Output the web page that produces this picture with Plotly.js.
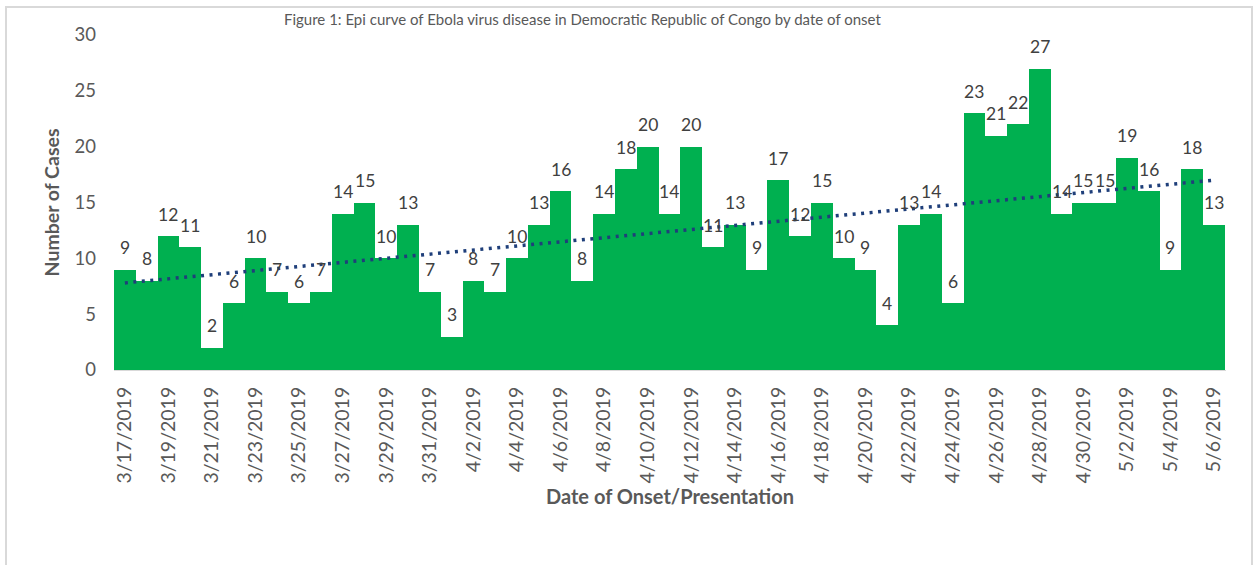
<!DOCTYPE html>
<html>
<head>
<meta charset="utf-8">
<script src="https://cdn.plot.ly/plotly-3.0.1.min.js"></script>
<style>
  html, body { margin: 0; padding: 0; background: #ffffff; }
  #chart { width: 1253px; height: 565px; }
</style>
</head>
<body>
<div id="chart"></div>
<script>
// ---- data ----
const dates = [
  "3/17/2019","3/18/2019","3/19/2019","3/20/2019","3/21/2019","3/22/2019","3/23/2019","3/24/2019",
  "3/25/2019","3/26/2019","3/27/2019","3/28/2019","3/29/2019","3/30/2019","3/31/2019",
  "4/1/2019","4/2/2019","4/3/2019","4/4/2019","4/5/2019","4/6/2019","4/7/2019","4/8/2019",
  "4/9/2019","4/10/2019","4/11/2019","4/12/2019","4/13/2019","4/14/2019","4/15/2019","4/16/2019",
  "4/17/2019","4/18/2019","4/19/2019","4/20/2019","4/21/2019","4/22/2019","4/23/2019","4/24/2019",
  "4/25/2019","4/26/2019","4/27/2019","4/28/2019","4/29/2019","4/30/2019",
  "5/1/2019","5/2/2019","5/3/2019","5/4/2019","5/5/2019","5/6/2019"
];
const cases = [
  9, 8, 12, 11, 2, 6, 10, 7, 6, 7, 14, 15, 10, 13, 7,
  3, 8, 7, 10, 13, 16, 8, 14, 18, 20, 14, 20, 11, 13, 9, 17,
  12, 15, 10, 9, 4, 13, 14, 6, 23, 21, 22, 27, 14, 15,
  15, 19, 16, 9, 18, 13
];
const tickLabels = [
  "3/17/2019","3/19/2019","3/21/2019","3/23/2019","3/25/2019","3/27/2019","3/29/2019","3/31/2019",
  "4/2/2019","4/4/2019","4/6/2019","4/8/2019","4/10/2019","4/12/2019","4/14/2019","4/16/2019",
  "4/18/2019","4/20/2019","4/22/2019","4/24/2019","4/26/2019","4/28/2019","4/30/2019",
  "5/2/2019","5/4/2019","5/6/2019"
];
const trendX = ["3/17/2019", "5/6/2019"];
const trendY = [7.8, 17.0];
const yTicks = [0, 5, 10, 15, 20, 25, 30];

const titleText = "Figure 1: Epi curve of Ebola virus disease in Democratic Republic of Congo by date of onset";
const xTitle = "Date of Onset/Presentation";
const yTitle = "Number of Cases";

// ---- style ----
const FONT = "Lato, 'Open Sans', sans-serif";
const W = 1253, H = 565;
const M = { l: 114, r: 27, t: 35, b: 195 };
const pw = W - M.l - M.r, ph = H - M.t - M.b;
const px2x = p => (p - M.l) / pw;
const py2y = p => (H - M.b - p) / ph;

const bars = {
  type: "bar",
  x: dates,
  y: cases,
  marker: { color: "#00B050", line: { width: 0 } },
  hoverinfo: "x+y",
  showlegend: false
};
const trend = {
  type: "scatter",
  mode: "lines",
  x: trendX,
  y: trendY,
  line: { color: "#1F3F7A", width: 3.5, dash: "3px,5.5px" },
  hoverinfo: "skip",
  showlegend: false
};

const valueLabels = dates.map((d, i) => ({
  x: d, y: cases[i], xref: "x", yref: "y",
  text: String(cases[i]),
  showarrow: false,
  yanchor: "middle",
  yshift: 22,
  font: { family: FONT, size: 17.5, color: "#404040" }
}));

const titleAnn = {
  xref: "paper", yref: "paper",
  x: px2x(582), y: 1,
  xanchor: "center", yanchor: "middle",
  yshift: M.t - 19,
  text: titleText,
  showarrow: false,
  font: { family: FONT, size: 15, color: "#595959" }
};

const layout = {
  width: W, height: H,
  margin: M,
  paper_bgcolor: "#ffffff",
  plot_bgcolor: "#ffffff",
  bargap: 0,
  font: { family: FONT, color: "#595959" },
  xaxis: {
    type: "category",
    categoryorder: "array",
    categoryarray: dates,
    tickmode: "array",
    tickvals: tickLabels,
    ticktext: tickLabels,
    tickangle: -90,
    tickfont: { family: FONT, size: 19.5, color: "#595959" },
    ticks: "",
    ticklabelstandoff: 8,
    showgrid: false,
    zeroline: false,
    showline: true,
    linecolor: "#D9D9D9",
    linewidth: 1,
    title: { text: xTitle, font: { family: FONT, size: 20, color: "#595959", weight: "bold" }, standoff: 7 },
    automargin: false,
    fixedrange: true
  },
  yaxis: {
    range: [0, 30],
    tickmode: "array",
    tickvals: yTicks,
    ticktext: yTicks.map(String),
    tickfont: { family: FONT, size: 18.5, color: "#595959" },
    ticks: "",
    ticklabelstandoff: 17,
    showgrid: false,
    zeroline: false,
    showline: false,
    title: { text: yTitle, font: { family: FONT, size: 19.5, color: "#595959", weight: "bold" }, standoff: 9 },
    automargin: false,
    fixedrange: true
  },
  shapes: [{
    type: "rect", xref: "paper", yref: "paper",
    x0: px2x(6), x1: px2x(1252), y0: py2y(575), y1: py2y(7),
    line: { color: "#D9D9D9", width: 2 },
    fillcolor: "rgba(0,0,0,0)",
    layer: "below"
  }],
  annotations: [titleAnn].concat(valueLabels)
};

Plotly.newPlot("chart", [bars, trend], layout, { displayModeBar: false, staticPlot: true });
</script>
</body>
</html>
